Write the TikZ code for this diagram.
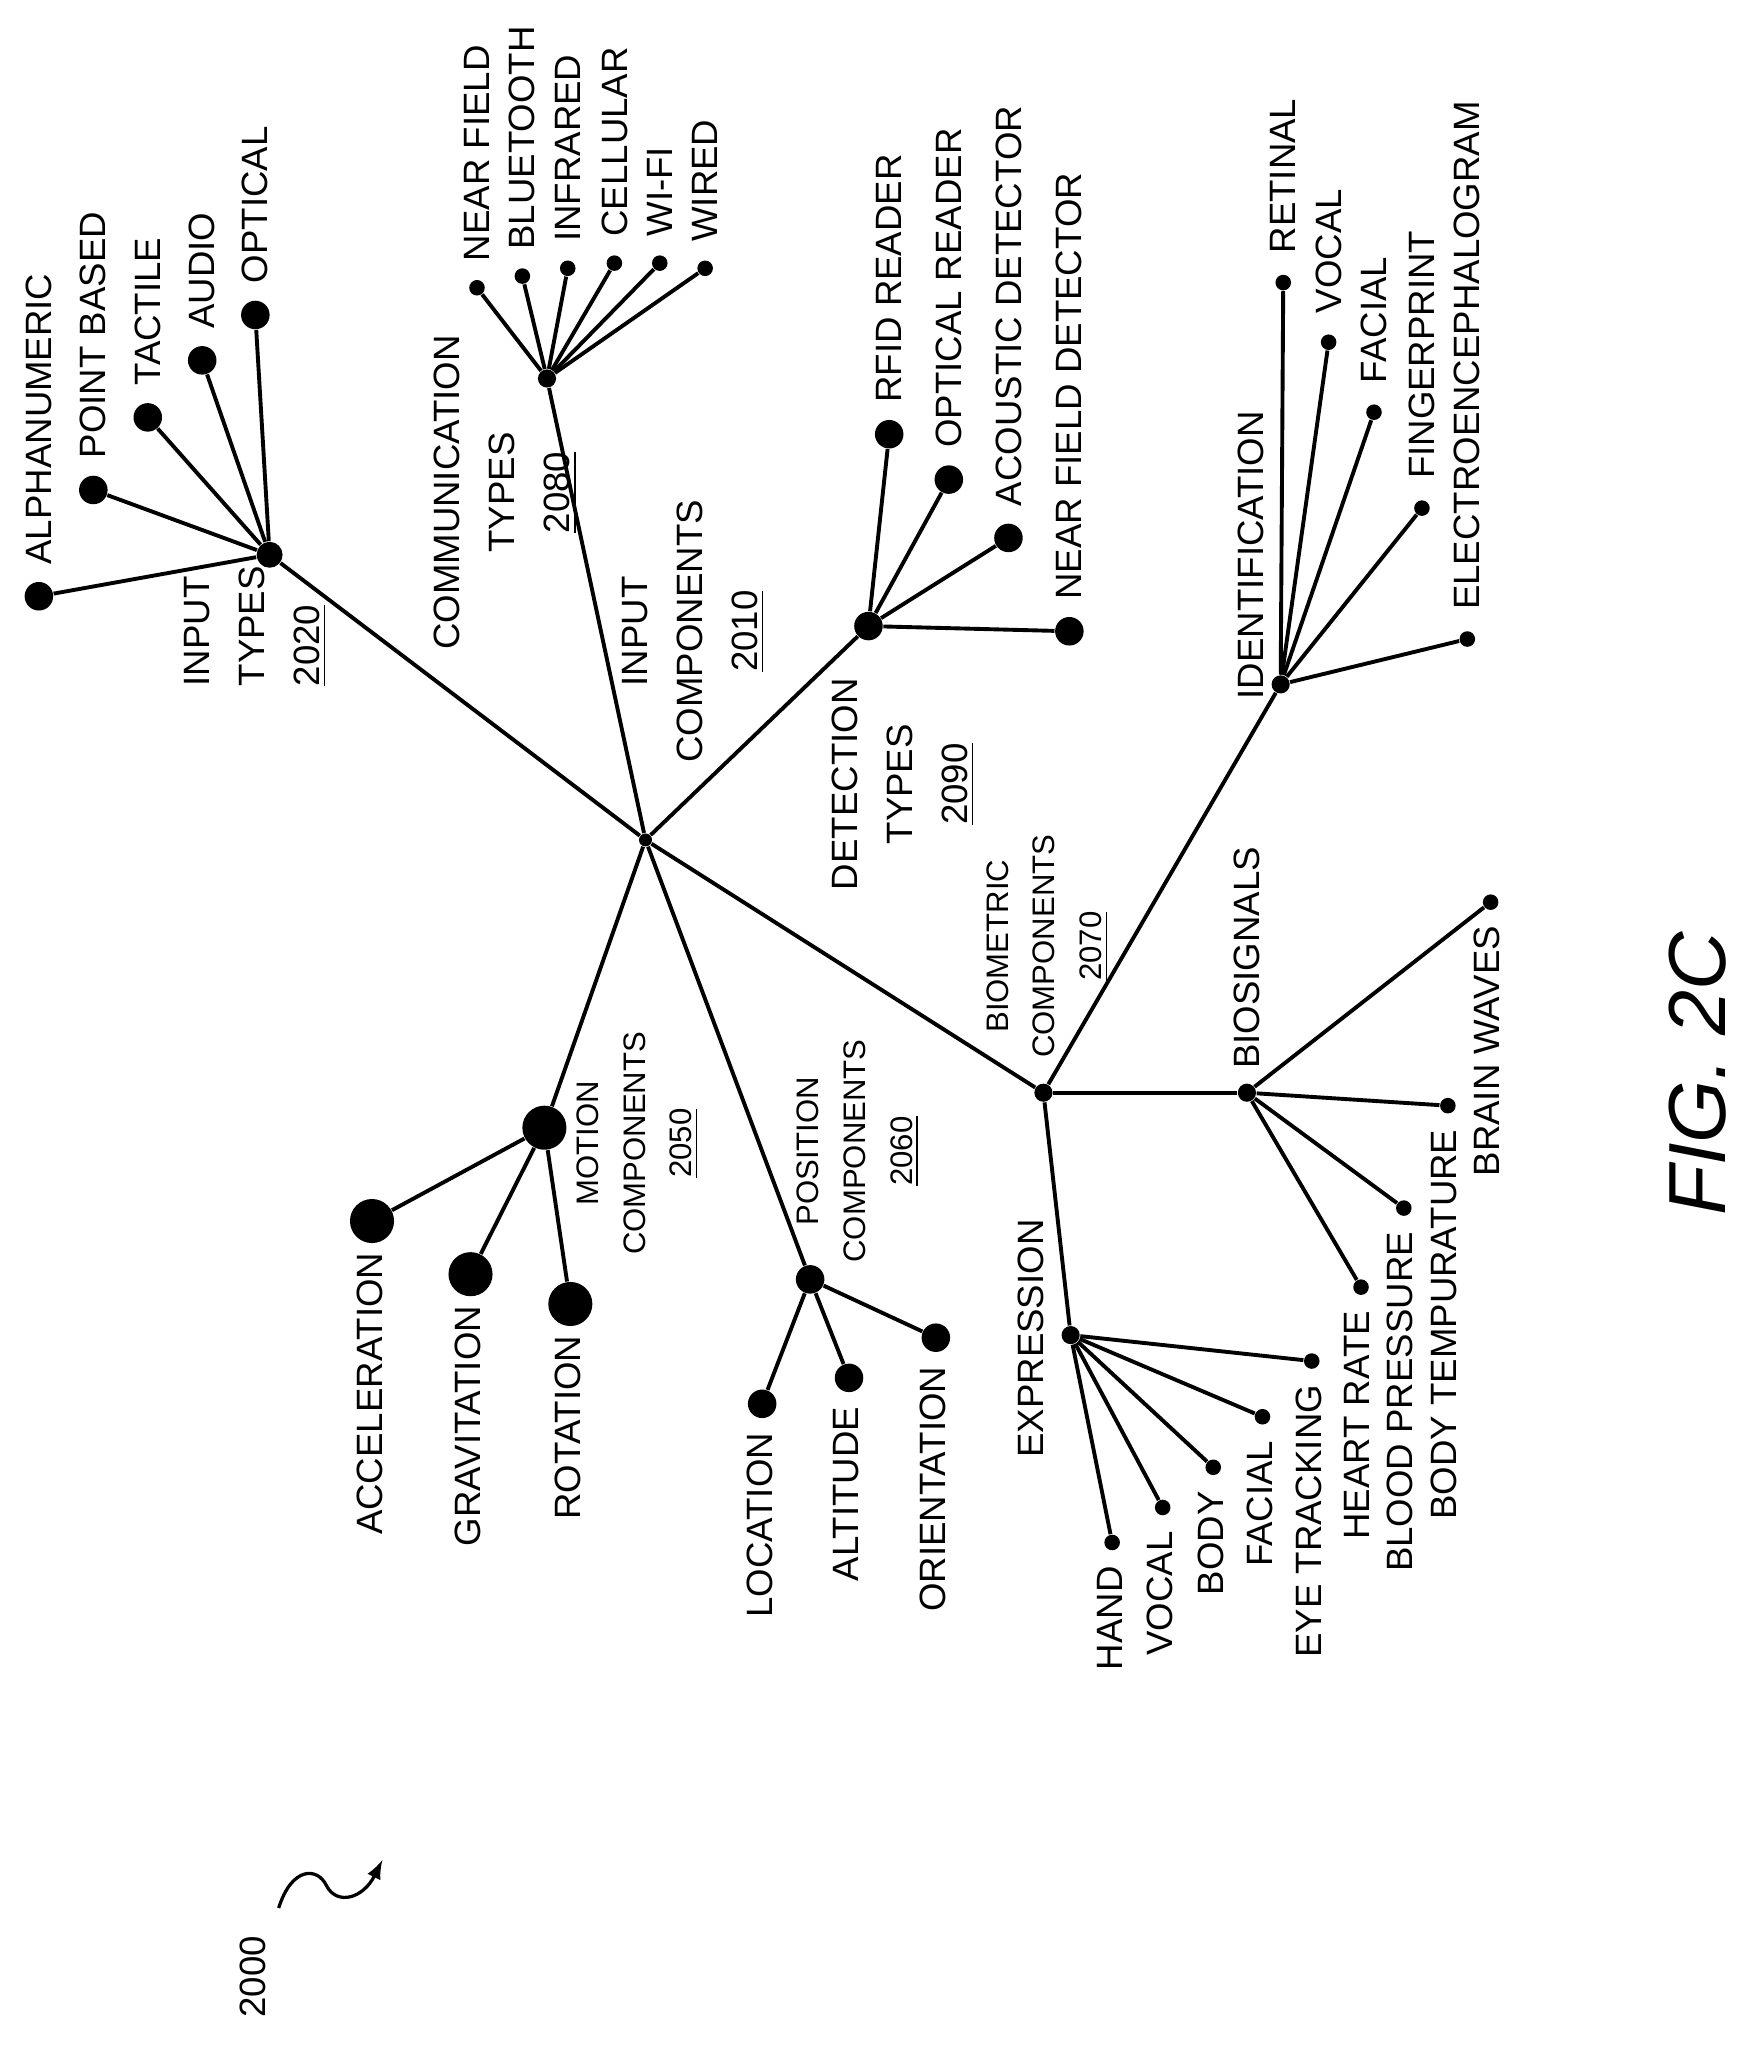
\documentclass[tikz,border=0pt]{standalone}
\usepackage{fontspec}
\setmainfont{Liberation Sans}
\begin{document}
\begin{tikzpicture}[x=0.4pt,y=-0.4pt,
  dot/.style={circle,fill=black,inner sep=0pt,minimum size=#1*0.4pt},
  lab/.style={rotate=90,inner sep=0pt,font=\fontsize{11.3}{17}\selectfont},
  blk/.style={lab,align=center},
  sblk/.style={rotate=90,inner sep=0pt,align=center,font=\fontsize{9.6}{14.4}\selectfont},
  lnk/.style={line width=1.2pt}]
\useasboundingbox (0,0) rectangle (1360,1580);
% hubs
\node[dot=10] (C) at (498,648) {};
\node[dot=20] (IT) at (208,428) {};
\node[dot=14] (CT) at (422,292) {};
\node[dot=22] (DT) at (670,483) {};
\node[dot=14] (BC) at (805,843) {};
\node[dot=14] (ID) at (988,528) {};
\node[dot=14] (BS) at (962,843) {};
\node[dot=14] (EX) at (826,1030) {};
\node[dot=34] (MC) at (420,870) {};
\node[dot=22] (PC) at (625,987) {};
\foreach \h in {IT,CT,DT,BC,MC,PC} \draw[lnk] (C) -- (\h);
\foreach \h in {ID,BS,EX} \draw[lnk] (BC) -- (\h);
% input types
\foreach \n/\x/\y/\t in {a1/30/460/ALPHANUMERIC,a2/72/378/POINT BASED,a3/114/322/TACTILE,a4/156/278/AUDIO,a5/197/243/OPTICAL}{
  \node[dot=22] (\n) at (\x,\y) {};
  \draw[lnk] (IT) -- (\n);
  \node[lab,anchor=west] at (\x,\y-24) {\t};}
\node[blk,anchor=west,align=left] at (197,530) {INPUT\\TYPES\\\underline{2020}};
% communication
\foreach \n/\x/\y/\t in {c1/368/222/NEAR FIELD,c2/403/213/BLUETOOTH,c3/438/207/INFRARED,c4/474/203/CELLULAR,c5/509/203/WI-FI,c6/544/207/WIRED}{
  \node[dot=12] (\n) at (\x,\y) {};
  \draw[lnk] (CT) -- (\n);
  \node[lab,anchor=west] at (\x,\y-20) {\t};}
\node[blk] at (390,380) {COMMUNICATION\\TYPES\\\underline{2080}};
\node[blk] at (535,487) {INPUT\\COMPONENTS\\\underline{2010}};
% detection
\foreach \n/\x/\y/\t in {d1/686/335/RFID READER,d2/732/370/OPTICAL READER,d3/778/415/ACOUSTIC DETECTOR,d4/825/487/NEAR FIELD DETECTOR}{
  \node[dot=22] (\n) at (\x,\y) {};
  \draw[lnk] (DT) -- (\n);
  \node[lab,anchor=west] at (\x,\y-24) {\t};}
\node[blk] at (697,605) {DETECTION\\TYPES\\\underline{2090}};
\node[sblk] at (808,730) {BIOMETRIC\\COMPONENTS\\\underline{2070}};
% identification
\foreach \n/\x/\y/\t in {i1/990/218/RETINAL,i2/1025/264/VOCAL,i3/1060/318/FACIAL,i4/1097/392/FINGERPRINT,i5/1132/493/ELECTROENCEPHALOGRAM}{
  \node[dot=12] (\n) at (\x,\y) {};
  \draw[lnk] (ID) -- (\n);
  \node[lab,anchor=west] at (\x,\y-22) {\t};}
\node[lab,anchor=west] at (965,540) {IDENTIFICATION};
% biosignals
\foreach \n/\x/\y/\t in {b1/1150/696/BRAIN WAVES,b2/1117/853/BODY TEMPURATURE,b3/1083/932/BLOOD PRESSURE,b4/1050/993/HEART RATE}{
  \node[dot=12] (\n) at (\x,\y) {};
  \draw[lnk] (BS) -- (\n);
  \node[lab,anchor=east] at (\x-3,\y+18) {\t};}
\node[lab,anchor=west] at (962,825) {BIOSIGNALS};
% expression
\foreach \n/\x/\y/\t in {e1/858/1190/HAND,e2/897/1163/VOCAL,e3/936/1132/BODY,e4/974/1093/FACIAL,e5/1012/1050/EYE TRACKING}{
  \node[dot=12] (\n) at (\x,\y) {};
  \draw[lnk] (EX) -- (\n);
  \node[lab,anchor=east] at (\x-2,\y+18) {\t};}
\node[lab,anchor=west] at (795,1125) {EXPRESSION};
% motion
\foreach \n/\x/\y/\t in {m1/287/942/ACCELERATION,m2/363/983/GRAVITATION,m3/440/1006/ROTATION}{
  \node[dot=34] (\n) at (\x,\y) {};
  \draw[lnk] (MC) -- (\n);
  \node[lab,anchor=east] at (\x-2,\y+24) {\t};}
\node[sblk] at (492,882) {MOTION\\COMPONENTS\\\underline{2050}};
% position
\foreach \n/\x/\y/\t in {p1/588/1083/LOCATION,p2/655/1063/ALTITUDE,p3/722/1032/ORIENTATION}{
  \node[dot=22] (\n) at (\x,\y) {};
  \draw[lnk] (PC) -- (\n);
  \node[lab,anchor=east] at (\x-2,\y+22) {\t};}
\node[sblk] at (662,888) {POSITION\\COMPONENTS\\\underline{2060}};
% figure label
\node[rotate=90,font=\fontsize{25}{28}\selectfont\itshape] (fig) at (1310,828) {FIG. 2C};
\node[lab] (ref) at (195,1525) {2000};
\coordinate (s0) at (215,1472);
\coordinate (s1) at (295,1435);
\draw[line width=1pt,-latex] (s0) .. controls (225,1440) and (245,1440) .. (252,1455) .. controls (260,1470) and (280,1465) .. (s1);
\end{tikzpicture}
\end{document}
